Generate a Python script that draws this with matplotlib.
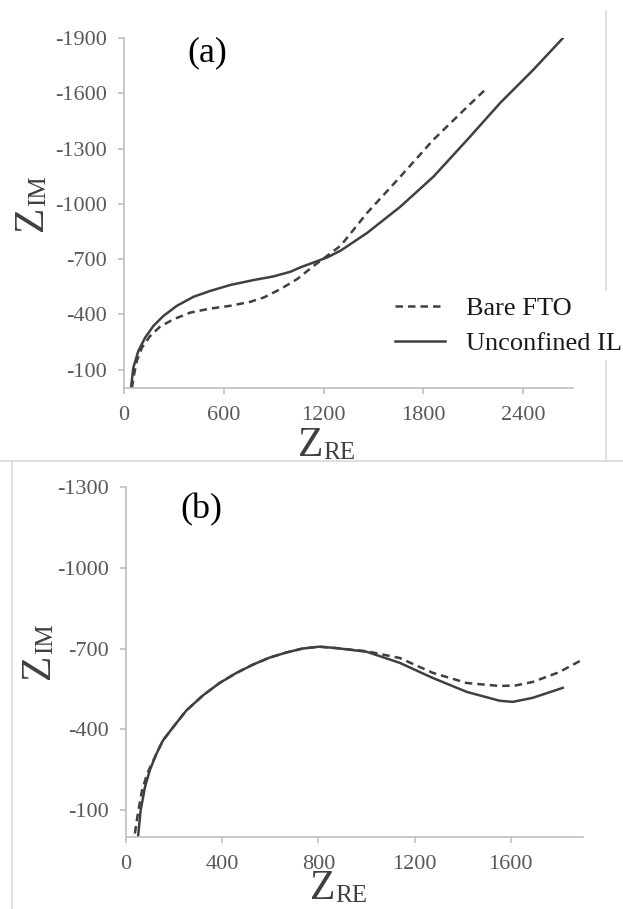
import matplotlib
matplotlib.use("Agg")
import matplotlib.pyplot as plt
from matplotlib.lines import Line2D

plt.rcParams["font.family"] = ["Liberation Serif", "DejaVu Serif"]
plt.rcParams["axes.unicode_minus"] = False

# panel (a)
a_fto_re = [48, 62, 77, 107, 157, 217, 298, 398, 519, 639, 760, 840, 941, 1041, 1142, 1222, 1303,
            1462, 1661, 1860, 2064, 2184]
a_fto_im = [0, -80, -146, -218, -282, -333, -373, -409, -431, -446, -468, -491, -537, -591, -664,
            -718, -773, -951, -1147, -1348, -1527, -1630]
a_il_re = [42, 56, 86, 127, 177, 237, 318, 418, 519, 639, 780, 900, 1001, 1061, 1142, 1222, 1303,
           1462, 1661, 1860, 2064, 2263, 2461, 2636]
a_il_im = [0, -109, -200, -273, -337, -391, -446, -495, -527, -559, -586, -606, -631, -655, -682,
           -709, -746, -842, -984, -1147, -1348, -1549, -1728, -1897]

# panel (b)
b_fto_re = [37, 50, 66, 88, 127, 154, 196, 251, 320, 389, 458, 527, 596, 665, 734, 803, 872, 1001,
            1138, 1275, 1417, 1554, 1620, 1691, 1800, 1900]
b_fto_im = [-13, -90, -170, -235, -310, -359, -408, -470, -526, -572, -609, -640, -666, -685, -700,
            -707, -702, -690, -665, -610, -572, -561, -563, -576, -612, -660]
b_il_re = [50, 61, 79, 99, 127, 154, 196, 251, 320, 389, 458, 527, 596, 665, 734, 803, 872, 1001,
           1138, 1275, 1417, 1554, 1608, 1691, 1816]
b_il_im = [0, -99, -186, -248, -310, -359, -408, -470, -526, -572, -609, -640, -666, -685, -700,
           -707, -702, -688, -647, -591, -539, -506, -502, -517, -554]

a_xticks = [0, 600, 1200, 1800, 2400]
a_yticks = [-100, -400, -700, -1000, -1300, -1600, -1900]
b_xticks = [0, 400, 800, 1200, 1600]
b_yticks = [-100, -400, -700, -1000, -1300]

line_color = "#404040"
spine_color = "#bfbfbf"
tick_text = "#595959"
frame_color = "#d9d9d9"

W, H = 623, 909
fig = plt.figure(figsize=(W / 100, H / 100), dpi=100)
ax_a = fig.add_axes([0.199, 0.5732, 0.721, 0.385])
ax_b = fig.add_axes([0.2022, 0.0792, 0.7336, 0.385])


def style_axes(ax, xticks, yticks, xmax, ymin):
    ax.set_xlim(0, xmax)
    ax.set_ylim(0, ymin)
    ax.set_xticks(xticks)
    ax.set_yticks(yticks)
    ax.set_xticklabels([str(t) for t in xticks])
    ax.set_yticklabels([str(t) for t in yticks])
    for side in ("top", "right"):
        ax.spines[side].set_visible(False)
    for side in ("left", "bottom"):
        ax.spines[side].set_color(spine_color)
        ax.spines[side].set_linewidth(1.2)
    ax.tick_params(colors=spine_color, labelcolor=tick_text, labelsize=16,
                   length=4, width=1.2, direction="out")
    ax.tick_params(axis="x", pad=9)
    ax.tick_params(axis="y", pad=8)
    ax.patch.set_alpha(0)


def z_label(x, y, sub, rot=0):
    # x, y: pixel position of the baseline centre of the big "Z"
    if rot == 0:
        fig.text(x / W, 1 - y / H, "Z", fontsize=30, ha="center", va="baseline", color=line_color)
        fig.text((x + 12) / W, 1 - (y + 3) / H, sub, fontsize=18, ha="left", va="baseline",
                 color=line_color)
    else:
        fig.text(x / W, 1 - y / H, "Z", fontsize=30, rotation=90, rotation_mode="anchor",
                 ha="center", va="baseline", color=line_color)
        fig.text((x + 3) / W, 1 - (y - 12) / H, sub, fontsize=18, rotation=90,
                 rotation_mode="anchor", ha="left", va="baseline", color=line_color)


dash = (3, 2)
ax_a.plot(a_fto_re, a_fto_im, color=line_color, lw=1.8, ls=(0, dash), label="Bare FTO")
ax_a.plot(a_il_re, a_il_im, color=line_color, lw=1.8, label="Unconfined IL")
style_axes(ax_a, a_xticks, a_yticks, 2700, -1900)

ax_b.plot(b_fto_re, b_fto_im, color=line_color, lw=1.8, ls=(0, dash))
ax_b.plot(b_il_re, b_il_im, color=line_color, lw=1.8)
style_axes(ax_b, b_xticks, b_yticks, 1900, -1300)

# panel letters
ax_a.text(0.186, 0.959, "(a)", transform=ax_a.transAxes, fontsize=26, ha="center", va="center")
ax_b.text(0.164, 0.935, "(b)", transform=ax_b.transAxes, fontsize=26, ha="center", va="center")

# axis titles
z_label(42, 218, "IM", rot=90)
z_label(311, 456, "RE")
z_label(49, 666, "IM", rot=90)
z_label(323, 899, "RE")

# chart frames (light Excel-style borders)
fig.add_artist(Line2D([0.0, 1.0], [0.4928, 0.4928], color=frame_color, lw=1.2, zorder=-1))
fig.add_artist(Line2D([0.9727, 0.9727], [0.9879, 0.4928], color=frame_color, lw=1.2, zorder=-1))
fig.add_artist(Line2D([0.0193, 0.0193], [0.4928, 0.0], color=frame_color, lw=1.2, zorder=-1))

leg = ax_a.legend(loc="upper left", bbox_to_anchor=(0.625, 0.6795), bbox_transform=fig.transFigure,
                  fontsize=19, frameon=True, framealpha=1, edgecolor="none", facecolor="white",
                  handlelength=1.9, handletextpad=0.8, labelspacing=0.43, borderpad=0.2,
                  borderaxespad=0)
for txt in leg.get_texts():
    txt.set_color("#1a1a1a")

fig.savefig("out.png", dpi=100, facecolor="white")
